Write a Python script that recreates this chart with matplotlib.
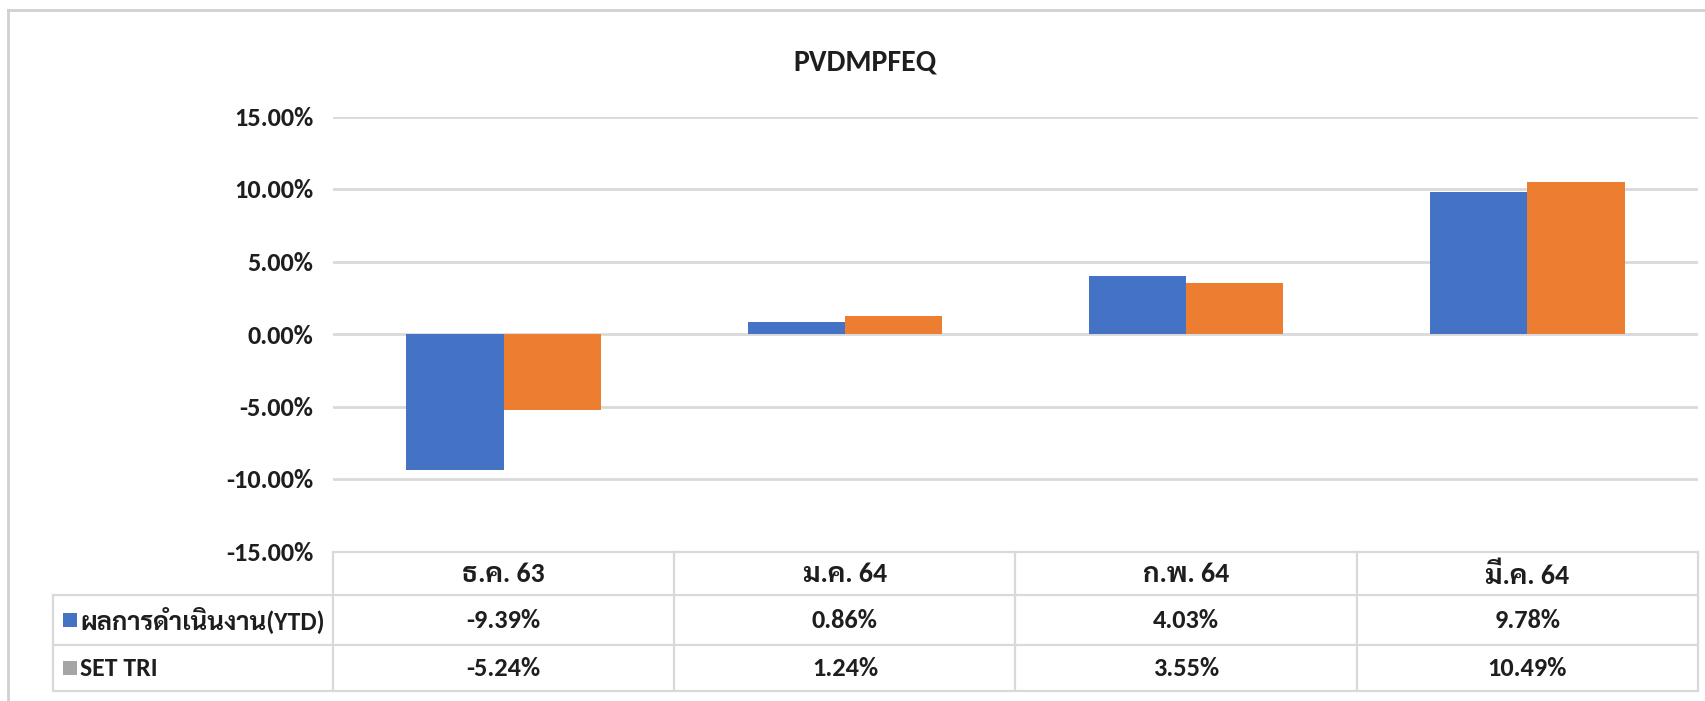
import matplotlib
matplotlib.use("Agg")
import matplotlib.pyplot as plt
from matplotlib.patches import Rectangle
from matplotlib.lines import Line2D

plt.rcParams['font.family'] = ['Carlito', 'Sarabun', 'Noto Sans Thai', 'Bai Jamjuree', 'DejaVu Sans']
plt.rcParams['font.weight'] = 'bold'

######## data
title = 'PVDMPFEQ'
months = ['ธ.ค. 63', 'ม.ค. 64', 'ก.พ. 64', 'มี.ค. 64']
seriesNames = ['ผลการดำเนินงาน(YTD)', 'SET TRI']
fundYTD = [-9.39, 0.86, 4.03, 9.78]
setTRI = [-5.24, 1.24, 3.55, 10.49]
yTicks = [-15, -10, -5, 0, 5, 10, 15]

barColors = ['#4472C4', '#ED7D31']
keyColors = ['#4472C4', '#A5A5A5']
gridColor = '#D9D9D9'
txtColor = '#1E1E1E'

W, H = 1706, 701
fig = plt.figure(figsize=(W / 100, H / 100), dpi=100)

# axes box in pixels: x 333..1698, y 116.5..551.5
axL, axR, axT, axB = 333, 1698, 116.5, 551.5
ax = fig.add_axes([axL / W, 1 - axB / H, (axR - axL) / W, (axB - axT) / H])

x = list(range(len(months)))
bw = 0.285
ax.bar([i - bw / 2 for i in x], fundYTD, bw, color=barColors[0], zorder=3)
ax.bar([i + bw / 2 for i in x], setTRI, bw, color=barColors[1], zorder=3)

ax.set_xlim(-0.5, len(months) - 0.5)
ax.set_ylim(-15, 15)
ax.set_yticks(yTicks)
ax.set_yticklabels(['%.2f%%' % v for v in yTicks], fontsize=19, color=txtColor)
ax.tick_params(axis='y', length=0, pad=14)
ax.set_xticks([])
for s in ax.spines.values():
    s.set_visible(False)
ax.grid(axis='y', color=gridColor, linewidth=2, zorder=0)

fig.text(865 / W, 1 - 62 / H, title, ha='center', va='center', fontsize=21.5, color=txtColor)

######## data table under the plot
def fy(py):
    return 1 - py / H

def fx(px):
    return px / W

rowEdges = [552, 595, 645, 691]
tabL = 53
lw = 1.6
# horizontal lines
fig.add_artist(Line2D([fx(axL), fx(axR)], [fy(rowEdges[0])] * 2, color=gridColor, lw=lw))
for yy in rowEdges[1:]:
    fig.add_artist(Line2D([fx(tabL), fx(axR)], [fy(yy)] * 2, color=gridColor, lw=lw))
# vertical lines
fig.add_artist(Line2D([fx(tabL)] * 2, [fy(rowEdges[1]), fy(rowEdges[3])], color=gridColor, lw=lw))
colW = (axR - axL) / len(months)
for k in range(len(months) + 1):
    xx = axL + k * colW
    fig.add_artist(Line2D([fx(xx)] * 2, [fy(rowEdges[0]), fy(rowEdges[3])], color=gridColor, lw=lw))

for k, m in enumerate(months):
    cx = axL + (k + 0.5) * colW
    fig.text(fx(cx), fy((rowEdges[0] + rowEdges[1]) / 2 + 1), m, ha='center', va='center',
             fontsize=20, color=txtColor)
    fig.text(fx(cx), fy((rowEdges[1] + rowEdges[2]) / 2), '%.2f%%' % fundYTD[k], ha='center',
             va='center', fontsize=19, color=txtColor)
    fig.text(fx(cx), fy((rowEdges[2] + rowEdges[3]) / 2), '%.2f%%' % setTRI[k], ha='center',
             va='center', fontsize=19, color=txtColor)

for r, name in enumerate(seriesNames):
    cy = (rowEdges[r + 1] + rowEdges[r + 2]) / 2
    fig.add_artist(Rectangle((fx(63), fy(cy + 7)), 14 / W, 14 / H, color=keyColors[r], lw=0))
    fig.text(fx(80), fy(cy), name, ha='left', va='center', fontsize=18.5, color=txtColor)

# light frame round the chart area
fig.add_artist(Line2D([fx(8), fx(W + 5)], [fy(9.5)] * 2, color='#D0D0D0', lw=2))
fig.add_artist(Line2D([fx(8)] * 2, [fy(9.5), fy(H + 5)], color='#D0D0D0', lw=2))

fig.savefig('out.png', dpi=100)
